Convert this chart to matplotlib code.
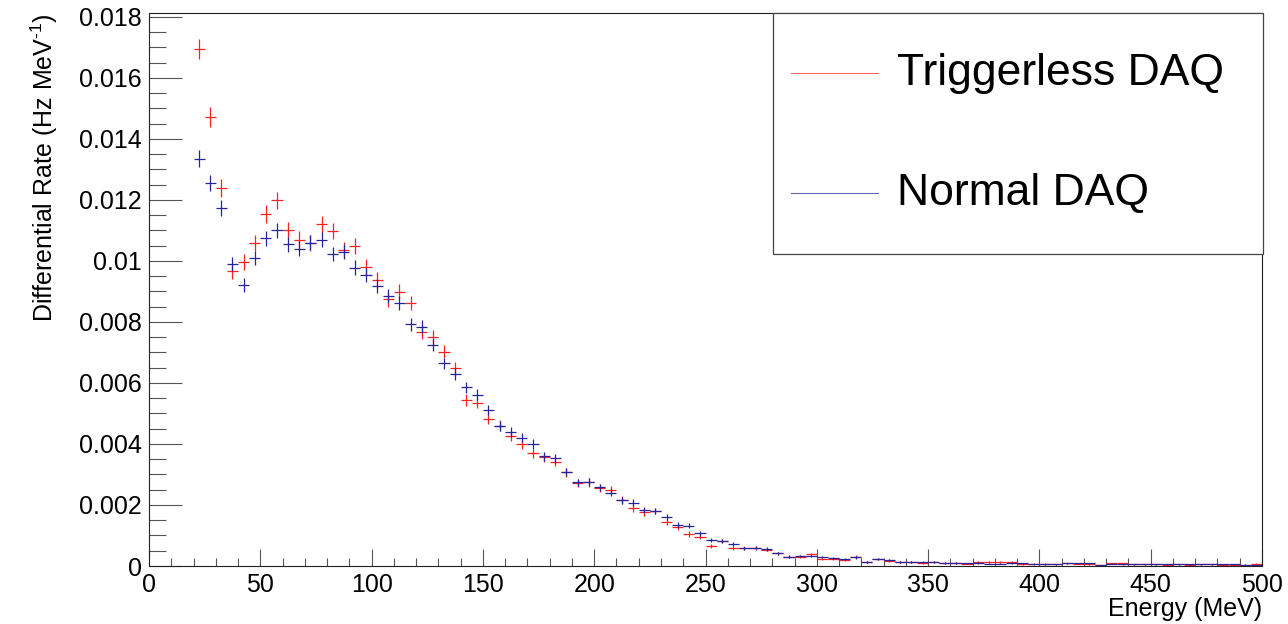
import numpy as np
import matplotlib
matplotlib.use('Agg')
import matplotlib.pyplot as plt
from matplotlib.ticker import MultipleLocator, FuncFormatter
from matplotlib.patches import Rectangle
from matplotlib.lines import Line2D

plt.rcParams['font.family'] = ['Liberation Sans', 'DejaVu Sans']
plt.rcParams['mathtext.fontset'] = 'custom'
plt.rcParams['mathtext.rm'] = 'Liberation Sans'

# 5 MeV bins from 20 to 500 MeV
bin_lo, bin_hi, bin_w = 20., 500., 5.
energy = np.arange(bin_lo + bin_w/2, bin_hi, bin_w)

# differential rate, in units of 1e-3 Hz/MeV
triggerless = [16.95, 14.72, 12.39, 9.67, 9.97, 10.6, 11.54, 11.99, 11.0, 10.7,
               10.6, 11.2, 10.98, 10.36, 10.49, 9.8, 9.38, 8.75, 8.99, 8.62,
               7.68, 7.52, 7.03, 6.48, 5.44, 5.36, 4.82, 4.6, 4.26, 4.0,
               3.69, 3.56, 3.42, 3.07, 2.71, 2.74, 2.55, 2.49, 2.16, 1.89,
               1.76, 1.80, 1.43, 1.27, 1.05, 0.96, 0.66, 0.82, 0.58, 0.58,
               0.60, 0.54, 0.42, 0.31, 0.31, 0.38, 0.22, 0.22, 0.20, 0.31,
               0.12, 0.22, 0.18, 0.14, 0.12, 0.10, 0.14, 0.09, 0.10, 0.08,
               0.14, 0.12, 0.12, 0.12, 0.07, 0.06, 0.07, 0.05, 0.09, 0.08,
               0.06, 0.02, 0.09, 0.09, 0.05, 0.05, 0.06, 0.04, 0.06, 0.04,
               0.05, 0.06, 0.04, 0.04, 0.03, 0.08]
normal = [13.35, 12.55, 11.75, 9.9, 9.2, 10.1, 10.75, 11.0, 10.55, 10.4,
          10.6, 10.7, 10.23, 10.3, 9.78, 9.54, 9.18, 8.85, 8.62, 7.93,
          7.85, 7.25, 6.64, 6.3, 5.86, 5.61, 5.11, 4.6, 4.40, 4.21,
          4.0, 3.6, 3.53, 3.07, 2.74, 2.76, 2.58, 2.4, 2.16, 2.08,
          1.84, 1.80, 1.62, 1.34, 1.32, 1.07, 0.85, 0.82, 0.72, 0.58,
          0.60, 0.56, 0.42, 0.31, 0.33, 0.33, 0.29, 0.27, 0.22, 0.28,
          0.14, 0.22, 0.20, 0.14, 0.14, 0.14, 0.13, 0.10, 0.10, 0.09,
          0.10, 0.07, 0.08, 0.10, 0.09, 0.07, 0.06, 0.05, 0.09, 0.09,
          0.09, 0.03, 0.07, 0.06, 0.05, 0.05, 0.05, 0.05, 0.05, 0.05,
          0.05, 0.05, 0.05, 0.05, 0.04, 0.03]

triggerless = np.array(triggerless) * 1e-3
normal = np.array(normal) * 1e-3

# poisson-like stat errors, scale per sample
err_scale = {'Triggerless DAQ': 0.0026, 'Normal DAQ': 0.0024}

red, blue = '#ff2020', '#24249c'

W, H = 1288, 624
fig = plt.figure(figsize=(W/100, H/100), dpi=100)
ax = fig.add_axes([149/W, 1-566/H, (1262-149)/W, (566-13)/H])

for y, name, c in [(triggerless, 'Triggerless DAQ', red),
                   (normal, 'Normal DAQ', blue)]:
    ax.errorbar(energy, y, xerr=bin_w/2, yerr=err_scale[name]*np.sqrt(y),
                fmt='none', ecolor=c, elinewidth=0.9, capsize=0)

ax.set_xlim(0, 500)
ax.set_ylim(0, 0.01813)

ax.xaxis.set_major_locator(MultipleLocator(50))
ax.xaxis.set_minor_locator(MultipleLocator(10))
ax.yaxis.set_major_locator(MultipleLocator(0.002))
ax.yaxis.set_minor_locator(MultipleLocator(0.0005))
ax.yaxis.set_major_formatter(FuncFormatter(lambda v, p: '%g' % round(v, 4)))

ax.tick_params(axis='both', which='both', direction='in', color='#555555',
               width=0.8, labelsize=18, top=False, right=False)
ax.tick_params(axis='y', which='major', length=24, pad=5)
ax.tick_params(axis='y', which='minor', length=12)
ax.tick_params(axis='x', which='major', length=12, pad=5)
ax.tick_params(axis='x', which='minor', length=6)
for s in ax.spines.values():
    s.set_linewidth(0.8)
    s.set_color('#222222')

ax.set_xlabel('Energy (MeV)', fontsize=18, loc='right', labelpad=0)
ax.set_ylabel(r'Differential Rate (Hz MeV$^{\text{-1}}$)', fontsize=18,
              loc='top', labelpad=14)

# ROOT style legend box
px = lambda x, y: (x/W, 1-y/H)
fig.add_artist(Rectangle(px(773, 254), (1263-773)/W, (254-13)/H,
                         transform=fig.transFigure, facecolor='white',
                         edgecolor='#444444', lw=0.9, zorder=5))
for ypix, name, c in [(73, 'Triggerless DAQ', red), (193, 'Normal DAQ', blue)]:
    (x0, yy), (x1, _) = px(791, ypix), px(878, ypix)
    fig.add_artist(Line2D([x0, x1], [yy, yy], transform=fig.transFigure,
                          color=c, lw=0.8, alpha=0.7, zorder=6))
    fig.text(897/W, 1-(ypix+12)/H, name, fontsize=32, va='baseline',
             ha='left', zorder=6)

fig.savefig('out.png', dpi=100, facecolor='white')
